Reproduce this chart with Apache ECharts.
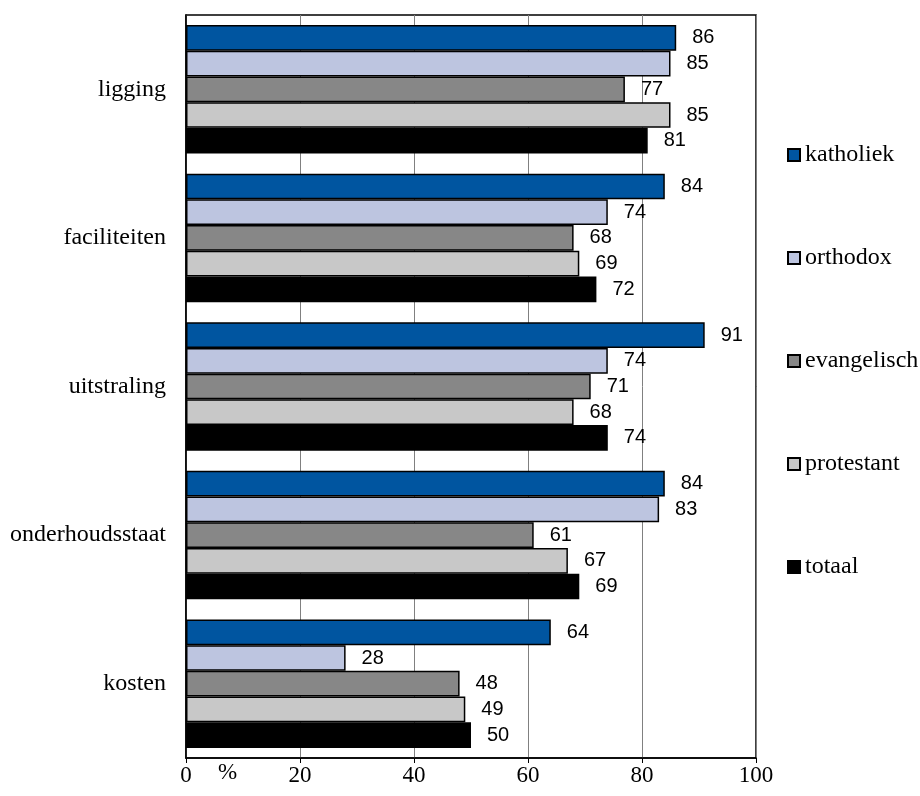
<!DOCTYPE html>
<html>
<head>
<meta charset="utf-8">
<script src="https://cdn.jsdelivr.net/npm/echarts@6/dist/echarts.min.js"></script>
<style>html,body{margin:0;padding:0;background:#fff;}#c{width:920px;height:796px;}</style>
</head>
<body>
<div id="c"></div>
<script>
const categories = ['ligging', 'faciliteiten', 'uitstraling', 'onderhoudsstaat', 'kosten'];
const seriesNames = ['katholiek', 'orthodox', 'evangelisch', 'protestant', 'totaal'];
const katholiek = [86, 84, 91, 84, 64];
const orthodox = [85, 74, 74, 83, 28];
const evangelisch = [77, 68, 71, 61, 48];
const protestant = [85, 69, 68, 67, 49];
const totaal = [81, 72, 74, 69, 50];
const xTicks = [0, 20, 40, 60, 80, 100];
const colors = ['#0055A0', '#BDC5E0', '#878787', '#C8C8C8', '#000000'];

const values = [katholiek, orthodox, evangelisch, protestant, totaal];
const serif = 'Liberation Serif';
const chart = echarts.init(document.getElementById('c'));
chart.setOption({
  animation: false,
  backgroundColor: '#fff',
  textStyle: { fontFamily: serif },
  grid: { left: 186, right: 164, top: 15, bottom: 38, show: true, borderColor: '#000', borderWidth: 1.5 },
  legend: {
    orient: 'vertical', left: 787, top: 143, padding: 0,
    itemWidth: 12, itemHeight: 12, itemGap: 79,
    icon: 'rect',
    textStyle: { fontFamily: serif, fontSize: 24, color: '#000', lineHeight: 24 },
    data: seriesNames
  },
  xAxis: {
    type: 'value', min: xTicks[0], max: xTicks[xTicks.length - 1], interval: 20,
    axisLine: { show: true, lineStyle: { color: '#000', width: 1.5 } },
    axisTick: { show: true, length: 5, lineStyle: { color: '#000' } },
    axisLabel: { fontFamily: serif, fontSize: 23, color: '#000', margin: 6 },
    splitLine: { show: true, lineStyle: { color: '#808080', width: 1 } }
  },
  yAxis: {
    type: 'category', inverse: true, data: categories,
    axisLine: { show: true, lineStyle: { color: '#000', width: 1.5 } },
    axisTick: { show: false },
    axisLabel: { fontFamily: serif, fontSize: 24, color: '#000', margin: 20 }
  },
  graphic: [{
    type: 'text', left: 218, top: 761,
    style: { text: '%', fontFamily: serif, fontSize: 23, fill: '#000' }
  }],
  series: seriesNames.map((n, i) => ({
    name: n, type: 'bar', data: values[i],
    barGap: '0%', barCategoryGap: '13.5%',
    itemStyle: { color: colors[i], borderColor: '#000', borderWidth: 1.5 },
    label: { show: true, position: 'right', distance: 16, fontFamily: 'Liberation Sans', fontSize: 20, color: '#000' }
  }))
});
</script>
</body>
</html>
